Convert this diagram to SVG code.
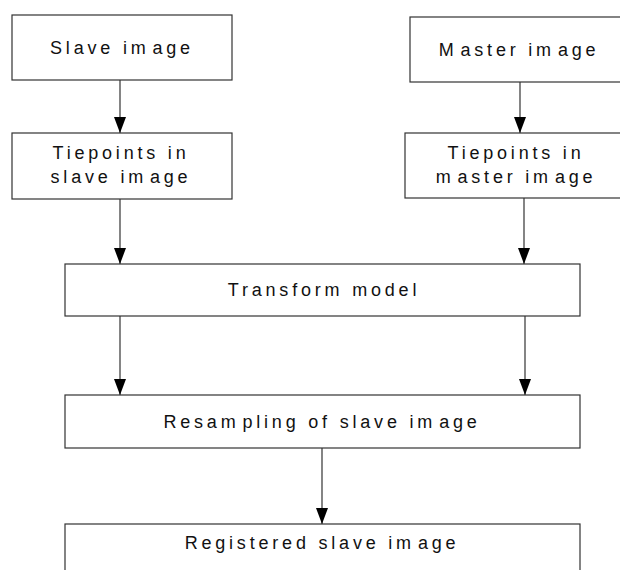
<svg xmlns="http://www.w3.org/2000/svg" width="620" height="570" viewBox="0 0 620 570">
<defs>
<style>
.box{fill:#fff;stroke:#333;stroke-width:1.2}
.lbl{font-family:"Liberation Sans",Arial,sans-serif;font-size:18px;letter-spacing:3.8px;fill:#111;text-anchor:middle}
.con{stroke:#333;stroke-width:1.2;fill:none;marker-end:url(#ah)}
</style>
<marker id="ah" markerWidth="16" markerHeight="12" refX="16" refY="6" orient="auto" markerUnits="userSpaceOnUse">
<path d="M0,0 L16,6 L0,12 Z" fill="#000"/>
</marker>
</defs>
<rect width="620" height="570" fill="#fff"/>
<g id="connectors">
<line class="con" x1="120" y1="80" x2="120" y2="133"/>
<line class="con" x1="520" y1="82" x2="520" y2="133"/>
<line class="con" x1="120" y1="199" x2="120" y2="264"/>
<line class="con" x1="524" y1="198" x2="524" y2="264"/>
<line class="con" x1="120" y1="316" x2="120" y2="395"/>
<line class="con" x1="525" y1="316" x2="525" y2="395"/>
<line class="con" x1="322" y1="448" x2="322" y2="524"/>
</g>
<g id="slave">
<rect class="box" x="12" y="15" width="220" height="65"/>
<text class="lbl" x="122" y="54">Slave im<tspan dx="3">age</tspan></text>
</g>
<g id="master">
<rect class="box" x="410" y="17" width="240" height="65"/>
<text class="lbl" x="519" y="56">M<tspan dx="3">aster im</tspan><tspan dx="3">age</tspan></text>
</g>
<g id="tie-slave">
<rect class="box" x="12" y="133" width="220" height="66"/>
<text class="lbl" x="121" y="159">Tiepoints in</text>
<text class="lbl" x="121" y="183">slave im<tspan dx="3">age</tspan></text>
</g>
<g id="tie-master">
<rect class="box" x="405" y="133" width="245" height="65"/>
<text class="lbl" x="516" y="159">Tiepoints in</text>
<text class="lbl" x="516" y="183">m<tspan dx="3">aster im</tspan><tspan dx="3">age</tspan></text>
</g>
<g id="transform">
<rect class="box" x="65" y="264" width="515" height="52"/>
<text class="lbl" x="324" y="296">Transform  model</text>
</g>
<g id="resampling">
<rect class="box" x="65" y="395" width="515" height="53"/>
<text class="lbl" x="322" y="428">Resam<tspan dx="3">pling of slave im</tspan><tspan dx="3">age</tspan></text>
</g>
<g id="registered">
<rect class="box" x="65" y="524" width="515" height="60"/>
<text class="lbl" x="322" y="549">Registered slave im<tspan dx="3">age</tspan></text>
</g>
</svg>
